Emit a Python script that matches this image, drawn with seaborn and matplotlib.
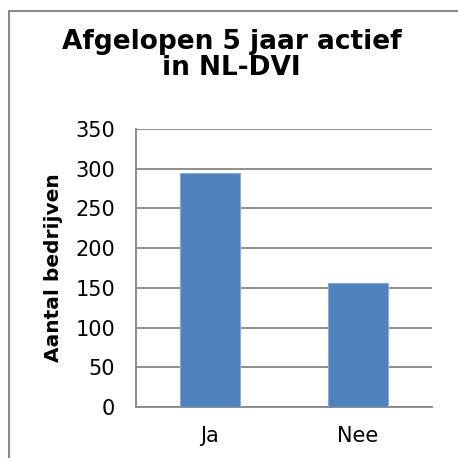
import pandas as pd
import seaborn as sns
import matplotlib.pyplot as plt
from matplotlib.patches import Rectangle

categories = ["Ja", "Nee"]
counts = [295, 156]
y_ticks = [0, 50, 100, 150, 200, 250, 300, 350]

def main():
    sns.set_style("white")
    plt.rcParams['font.family'] = ['DejaVu Sans']
    plt.rcParams['text.color'] = 'black'
    plt.rcParams['xtick.labelcolor'] = 'black'
    plt.rcParams['ytick.labelcolor'] = 'black'
    plt.rcParams['axes.labelcolor'] = 'black'

    df = pd.DataFrame({"antwoord": categories, "aantal": counts})

    fig = plt.figure(figsize=(4.58, 4.58), dpi=100)
    ax = fig.add_axes([0.297, 0.1114, 0.646, 0.607])

    sns.barplot(data=df, x="antwoord", y="aantal", color="#4F81BD",
                width=0.4, saturation=1, edgecolor="#8EAADB", linewidth=0.8,
                ax=ax, zorder=3)

    ax.set_xlim(-0.5, len(categories) - 0.5)
    ax.set_ylim(0, 350)
    ax.set_yticks(y_ticks)
    ax.yaxis.grid(True, color="#868686", linewidth=1.3)
    ax.set_axisbelow(True)

    # category borders as ticks, labels in the middle
    ax.set_xticks([i - 0.5 for i in range(len(categories) + 1)])
    ax.set_xticklabels([])
    ax.set_xticks(range(len(categories)), minor=True)
    ax.set_xticklabels(categories, minor=True)
    ax.tick_params(axis="x", which="minor", length=0, pad=14, labelsize=15, labelcolor="black")
    ax.tick_params(axis="x", which="major", length=5, width=1.3, color="#868686", direction="out")
    ax.tick_params(axis="y", length=5, width=1.3, color="#868686", direction="out",
                   labelsize=15, pad=10, labelcolor="black")

    for side in ["top", "right"]:
        ax.spines[side].set_visible(False)
    for side in ["left", "bottom"]:
        ax.spines[side].set_color("#868686")
        ax.spines[side].set_linewidth(1.3)

    ax.set_xlabel("")
    ax.set_ylabel("Aantal bedrijven", fontsize=14.5, fontweight="bold", labelpad=9, color="black")

    fig.text(0.506, 0.88, "Afgelopen 5 jaar actief\nin NL-DVI", ha="center", va="center",
             fontsize=19, fontweight="bold", linespacing=1.03, color="black")

    # chart frame
    fig.patches.append(Rectangle((9 / 458, -0.1), 1.2, 1.1 - 11 / 458, transform=fig.transFigure,
                                 fill=False, edgecolor="#8A8A8A", linewidth=1.5))

    fig.savefig("out.png", dpi=100)

if __name__ == "__main__":
    main()
